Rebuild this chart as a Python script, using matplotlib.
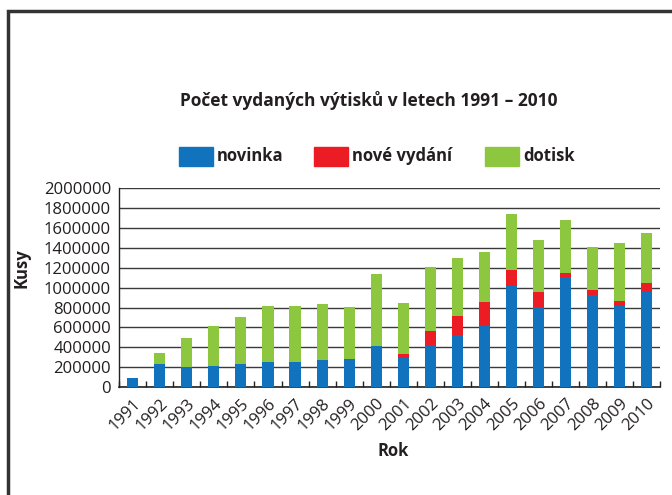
import matplotlib.pyplot as plt
import numpy as np
from matplotlib.patches import Rectangle

plt.rcParams["font.family"] = ["Open Sans", "DejaVu Sans"]

years = [str(y) for y in range(1991, 2011)]
novinka = [88000, 229000, 199000, 209000, 229000, 249000, 249000, 269000, 279000, 410000,
           292000, 420000, 521000, 615000, 1018000, 803000, 1106000, 924000, 817000, 958000]
nove_vydani = [0, 0, 0, 0, 0, 0, 0, 0, 0, 0,
               38000, 141000, 192000, 239000, 161000, 152000, 40000, 54000, 47000, 87000]
dotisk = [0, 111000, 292000, 403000, 474000, 564000, 564000, 565000, 524000, 726000,
          514000, 646000, 584000, 504000, 562000, 524000, 534000, 430000, 585000, 505000]
y_ticks = list(range(0, 2000001, 200000))

c_blue = "#1172bd"
c_red = "#ec1c24"
c_green = "#8dc63f"
c_text = "#231f20"

fig = plt.figure(figsize=(6.72, 4.95), dpi=100)
ax = fig.add_axes([119.3 / 672, 1 - 387 / 495, (660 - 119.3) / 672, (387 - 188.3) / 495])

x = np.arange(len(years))
nov = np.array(novinka)
red = np.array(nove_vydani)
grn = np.array(dotisk)
w = 0.41
ax.bar(x, nov, w, color=c_blue, zorder=3)
ax.bar(x, red, w, bottom=nov, color=c_red, zorder=3)
ax.bar(x, grn, w, bottom=nov + red, color=c_green, zorder=3)

ax.set_xlim(-0.5, len(years) - 0.5)
ax.set_ylim(0, 2000000)
ax.set_yticks(y_ticks)
ax.set_yticklabels([str(v) for v in y_ticks], fontsize=12, color=c_text)
ax.tick_params(axis="y", length=0, pad=6)
ax.grid(axis="y", color="#3a3a3a", linewidth=1.0, zorder=0)

ax.set_xticks(x)
ax.set_xticklabels(years, rotation=45, ha="right", rotation_mode="anchor",
                   fontsize=12, color=c_text)
ax.tick_params(axis="x", which="major", length=0, pad=6)
ax.set_xticks(np.arange(-0.5, len(years)), minor=True)
ax.tick_params(axis="x", which="minor", direction="in", length=4, width=1, color="#222222")

for side in ["top", "right"]:
    ax.spines[side].set_visible(False)
ax.spines["left"].set_color("#222222")
ax.spines["bottom"].set_color("#222222")
ax.spines["left"].set_linewidth(1.0)
ax.spines["bottom"].set_linewidth(1.2)

ax.set_ylabel("Kusy", fontsize=12, fontweight="bold", color=c_text, va="center")
ax.yaxis.set_label_coords(22 / 672, 1 - 268 / 495, transform=fig.transFigure)
fig.text(393 / 672, 1 - 451 / 495, "Rok", fontsize=12, fontweight="bold", color=c_text,
         ha="center", va="center")

fig.text(369 / 672, 1 - 101 / 495, "Počet vydaných výtisků v letech 1991 – 2010",
         fontsize=12.5, fontweight="bold", color=c_text, ha="center", va="center")

# legend drawn by hand in figure pixels
legend_items = [("novinka", c_blue, 179), ("nové vydání", c_red, 314), ("dotisk", c_green, 485)]
for label, color, px in legend_items:
    fig.patches.append(Rectangle((px / 672, 1 - 166 / 495), 34 / 672, 19 / 495,
                                 transform=fig.transFigure, color=color))
    fig.text((px + 38) / 672, 1 - 156.5 / 495, label, fontsize=12, fontweight="bold",
             color=c_text, ha="left", va="center")

# outer frame, cut off at the right and bottom like the source
fig.patches.append(Rectangle((8 / 672, -0.1), 1.2, 1.1 - 11 / 495, transform=fig.transFigure,
                             fill=False, edgecolor="#333333", linewidth=2.5))

fig.savefig("out.png", dpi=100, facecolor="white")
